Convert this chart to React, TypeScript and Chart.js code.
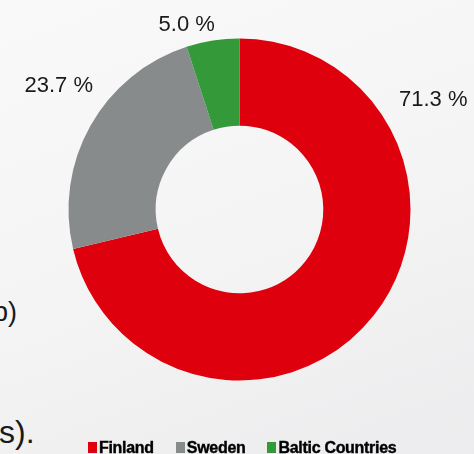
import React, { useEffect, useRef } from "react";
import { Chart, registerables } from "chart.js";

Chart.register(...registerables);

const categories = ["Finland", "Sweden", "Baltic Countries"];
const shares = [71.3, 23.7, 5.0];
const valueLabels = ["71.3 %", "23.7 %", "5.0 %"];
const colors = ["#df000e", "#878b8c", "#349a39"];
// label anchor offsets relative to the doughnut center, in outer-radius units
const labelOffsets = [
  [1.133, -0.643],
  [-1.057, -0.725],
  [-0.309, -1.079],
];

const labelPlugin = {
  id: "outerLabels",
  afterDatasetsDraw(chart: any) {
    const meta = chart.getDatasetMeta(0);
    const ctx = chart.ctx;
    ctx.save();
    ctx.font = "22px 'Liberation Sans', Arial, sans-serif";
    ctx.fillStyle = "#1a1a1a";
    ctx.textAlign = "center";
    ctx.textBaseline = "middle";
    meta.data.forEach((arc: any, i: number) => {
      const { x, y, outerRadius } = arc.getProps(["x", "y", "outerRadius"], true);
      const [ox, oy] = labelOffsets[i];
      ctx.fillText(valueLabels[i], x + ox * outerRadius, y + oy * outerRadius);
    });
    ctx.restore();
  },
};

export default function App() {
  const ref = useRef<HTMLCanvasElement>(null);
  useEffect(() => {
    if (!ref.current) return;
    const chart = new Chart(ref.current, {
      type: "doughnut",
      data: {
        labels: categories,
        datasets: [
          {
            data: shares,
            backgroundColor: colors,
            borderWidth: 0,
          },
        ],
      },
      options: {
        responsive: false,
        maintainAspectRatio: false,
        animation: false,
        devicePixelRatio: 1,
        cutout: "49%",
        layout: { padding: { left: 68.5, right: 63.5, top: 38.5, bottom: 73.5 } },
        plugins: {
          legend: { display: false },
          tooltip: { enabled: false },
        },
      },
      plugins: [labelPlugin],
    });
    return () => chart.destroy();
  }, []);

  return (
    <div
      style={{
        position: "fixed",
        left: 0,
        top: 0,
        width: 474,
        height: 454,
        overflow: "hidden",
        background: "linear-gradient(160deg, #f9f9f9 0%, #f5f5f5 45%, #ececee 100%)",
        fontFamily: "'Liberation Sans', Arial, sans-serif",
      }}
    >
      <div
        style={{
          position: "absolute",
          left: -7,
          top: 297,
          fontSize: 27,
          lineHeight: "30px",
          color: "#1a1a1a",
          whiteSpace: "nowrap",
        }}
      >
        b)
      </div>
      <div
        style={{
          position: "absolute",
          left: -1,
          top: 414,
          fontSize: 32,
          lineHeight: "36px",
          color: "#1a1a1a",
          whiteSpace: "nowrap",
        }}
      >
        s).
      </div>
      <canvas ref={ref} width={474} height={454} style={{ position: "absolute", left: 0, top: 0 }} />
      <div
        style={{
          position: "absolute",
          left: 88,
          top: 439.5,
          display: "flex",
          gap: 22,
          fontSize: 16,
          fontWeight: 700,
          lineHeight: "16px",
          letterSpacing: "-0.3px",
          color: "#000",
          whiteSpace: "nowrap",
          WebkitTextStroke: "0.4px #000",
        }}
      >
        {categories.map((c, i) => (
          <div key={c} style={{ display: "flex", alignItems: "flex-start" }}>
            <span
              style={{
                display: "inline-block",
                width: 9,
                height: 11,
                marginTop: 2.5,
                marginRight: 2,
                background: colors[i],
              }}
            />
            <span>{c}</span>
          </div>
        ))}
      </div>
    </div>
  );
}
